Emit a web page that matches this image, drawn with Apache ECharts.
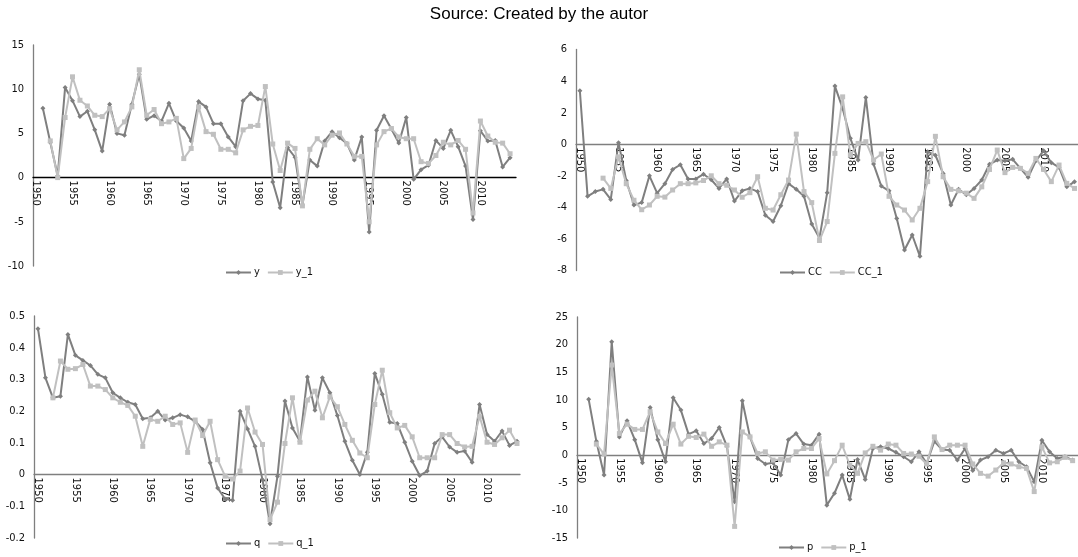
<!DOCTYPE html>
<html>
<head>
<meta charset="utf-8">
<script src="https://cdn.jsdelivr.net/npm/echarts@6/dist/echarts.min.js"></script>
<style>
html,body{margin:0;padding:0;background:#fff;}
#c{width:1078px;height:557px;}
</style>
</head>
<body>
<div id="c"></div>
<script>
// ---- DATA (years 1950..2014) ----
const years = [];
for (let yr = 1950; yr <= 2014; yr++) years.push(yr);
const labelYears = [1950,1955,1960,1965,1970,1975,1980,1985,1990,1995,2000,2005,2010];

const y = [null,7.85,4.0,0.2,10.2,8.7,6.9,7.5,5.4,3.0,8.3,5.0,4.8,8.3,11.7,6.6,7.0,6.4,8.4,6.4,
  5.6,4.15,8.6,8.0,6.1,6.1,4.6,3.5,8.7,9.5,8.9,8.75,-0.5,-3.4,3.4,2.3,-3.1,2.0,1.3,4.15,
  5.2,4.5,3.85,2.0,4.6,-6.15,5.35,7.0,5.5,3.9,6.8,-0.2,0.9,1.4,4.2,3.3,5.35,3.5,1.3,-4.75,
  5.3,4.15,4.2,1.2,2.25];
const y_1 = [null,null,4.15,0,6.8,11.4,8.75,8.1,7.05,6.9,7.8,5.4,6.3,8.0,12.2,7.05,7.7,6.1,6.3,6.7,
  2.15,3.3,8.0,5.2,4.9,3.2,3.2,2.8,5.4,5.8,5.9,10.3,3.8,0.8,3.9,3.3,-3.2,3.2,4.4,3.7,
  4.8,5.05,3.8,2.4,2.4,-5.0,3.7,5.2,5.55,4.6,4.4,4.4,1.8,1.6,2.5,4.0,3.7,4.2,3.2,-4.0,
  6.4,4.7,4.0,3.9,2.7];

const CC = [3.39,-3.3,-3.0,-2.86,-3.5,0.1,-2.3,-3.85,-3.7,-2.0,-3.1,-2.5,-1.6,-1.3,-2.2,-2.2,-1.9,-2.25,-2.8,-2.2,
  -3.6,-2.95,-2.8,-3.0,-4.5,-4.9,-3.9,-2.5,-2.85,-3.3,-5.05,-5.95,-3.07,3.68,2.27,0.37,-1.0,2.96,-1.26,-2.65,
  -2.95,-4.7,-6.7,-5.75,-7.1,-0.47,-0.7,-1.85,-3.85,-2.86,-3.2,-2.8,-2.27,-1.27,-1.0,-1.05,-0.96,-1.53,-2.1,-1.05,
  -0.41,-1.17,-1.47,-2.7,-2.37];
const CC_1 = [null,null,null,-2.15,-2.8,-0.8,-2.5,-3.55,-4.15,-3.85,-3.3,-3.35,-2.9,-2.5,-2.5,-2.45,-2.3,-2.0,-2.5,-2.6,
  -2.9,-3.36,-3.07,-2.06,-4.06,-4.17,-3.2,-2.27,0.64,-3.0,-3.7,-6.1,-4.9,-0.58,3.0,-0.69,0.05,0.16,-1.0,-0.62,
  -3.3,-3.85,-4.17,-4.8,-4.06,-2.37,0.5,-2.06,-2.86,-2.95,-3.1,-3.43,-2.7,-1.6,-0.37,-1.8,-1.47,-1.53,-1.85,-0.9,
  -1.6,-2.37,-1.32,-2.48,-2.8];

const q = [0.46,0.305,0.242,0.247,0.442,0.376,0.36,0.344,0.316,0.305,0.258,0.242,0.228,0.221,0.176,0.179,0.2,0.172,0.179,0.189,
  0.182,0.168,0.142,0.037,-0.042,-0.077,-0.081,0.2,0.144,0.089,-0.016,-0.155,-0.005,0.232,0.147,0.105,0.308,0.203,0.305,0.258,
  0.186,0.105,0.045,0.0,0.07,0.319,0.253,0.165,0.161,0.102,0.042,-0.003,0.011,0.098,0.119,0.087,0.07,0.074,0.039,0.221,
  0.126,0.105,0.137,0.092,0.105];
const q_1 = [null,null,0.242,0.358,0.332,0.334,0.347,0.279,0.279,0.268,0.242,0.228,0.218,0.184,0.089,0.174,0.168,0.184,0.158,0.163,
  0.07,0.172,0.123,0.168,0.047,-0.005,-0.014,0.011,0.21,0.134,0.095,-0.142,-0.087,0.098,0.242,0.102,0.235,0.263,0.179,0.245,
  0.214,0.158,0.108,0.068,0.053,0.221,0.329,0.195,0.147,0.155,0.119,0.053,0.053,0.053,0.126,0.126,0.098,0.087,0.089,0.184,
  0.102,0.095,0.116,0.14,0.098];

const p = [null,10.1,2.5,-3.6,20.5,3.3,6.2,2.8,-1.4,8.6,2.8,-1.2,10.4,8.15,3.8,4.4,2.1,3.0,5.0,1.6,
  -8.45,9.85,3.3,-0.6,-1.6,-1.4,-3.6,2.8,3.9,2.0,1.8,3.8,-9.05,-6.9,-3.6,-8.0,-0.8,-4.4,1.2,1.5,
  1.2,0.5,-0.3,-1.2,0.6,-1.5,2.5,1.0,0.9,-0.9,1.2,-2.8,-0.9,-0.3,0.9,0.3,0.9,-1.2,-2.1,-4.8,
  2.7,0.6,-0.6,-0.3,-0.9];
const p_1 = [null,null,2.0,0.2,16.3,3.9,5.6,4.65,4.65,7.85,4.2,2.1,5.6,2.0,3.4,3.2,3.8,1.6,2.4,1.8,
  -12.9,4.2,3.3,0.3,0.6,-0.9,-0.8,-0.9,0.6,1.2,1.2,3.0,-3.4,-1.0,1.8,-1.8,-3.3,0.4,1.6,0.9,
  2.0,1.8,0.3,0.2,-0.2,-1.6,3.3,1.0,1.8,1.8,1.8,-1.6,-3.3,-3.8,-2.7,-1.4,-1.6,-2.1,-2.4,-6.6,
  1.5,-1.4,-1.2,-0.4,-1.0];

// ---- CHART ----
const F = "'Liberation Sans Narrow','DejaVu Sans Condensed','Roboto Condensed',sans-serif";
const DARK = '#7f7f7f', LIGHT = '#c0c0c0';
const pairs = arr => years.map((yr, i) => [yr, arr[i]]);

const panels = [
  {names:['y','y_1'], data:[y,y_1], grid:{left:33,top:45,width:483,height:221}, yMin:-10,yMax:15,yInt:5, xMin:1949.67,xMax:2014.8, zero:'#000000', legend:{left:220,top:262}},
  {names:['CC','CC_1'], data:[CC,CC_1], grid:{left:576,top:49.5,width:502,height:221}, yMin:-8,yMax:6,yInt:2, xMin:1949.5,xMax:2014.45, zero:'#7f7f7f', legend:{left:774,top:262}},
  {names:['q','q_1'], data:[q,q_1], grid:{left:34,top:316,width:486,height:222}, yMin:-0.2,yMax:0.5,yInt:0.1, xMin:1949.47,xMax:2014.4, zero:'#7f7f7f', legend:{left:220,top:533}},
  {names:['p','p_1'], data:[p,p_1], grid:{left:577,top:317,width:501,height:221}, yMin:-15,yMax:25,yInt:5, xMin:1949.48,xMax:2014.7, zero:'#7f7f7f', legend:{left:773,top:537}}
];

const option = {
  animation:false,
  backgroundColor:'#fff',
  title:{text:'Source: Created by the autor', left:'center', top:1,
    textStyle:{fontFamily:"'Liberation Sans',Arial,sans-serif", fontSize:17, fontWeight:'normal', color:'#000'}},
  grid:[], xAxis:[], yAxis:[], series:[], legend:[]
};

panels.forEach((pn, i) => {
  // distance from grid bottom to the zero line, so the year axis (line + labels) sits on zero
  const zeroOffset = pn.grid.height * (0 - pn.yMin) / (pn.yMax - pn.yMin);
  option.grid.push(Object.assign({containLabel:false}, pn.grid));
  option.xAxis.push({
    type:'value', gridIndex:i, min:pn.xMin, max:pn.xMax, position:'bottom', offset:-zeroOffset,
    axisLine:{onZero:false, lineStyle:{color:pn.zero, width:1.3}},
    axisTick:{show:false}, splitLine:{show:false},
    axisLabel:{customValues:labelYears, rotate:-90, margin:3, fontSize:11, color:'#111', fontFamily:F,
      formatter:v => String(v)}
  });
  option.yAxis.push({
    type:'value', gridIndex:i, min:pn.yMin, max:pn.yMax, interval:pn.yInt,
    axisLine:{show:true, onZero:false, lineStyle:{color:'#7f7f7f', width:1.3}},
    axisTick:{show:false}, splitLine:{show:false},
    axisLabel:{fontSize:11, color:'#111', margin:9, fontFamily:F,
      formatter:v => String(Math.round(v*1000)/1000)}
  });
  option.series.push({
    name:pn.names[0], type:'line', xAxisIndex:i, yAxisIndex:i, data:pairs(pn.data[0]),
    symbol:'diamond', symbolSize:5, showSymbol:true,
    lineStyle:{color:DARK, width:2}, itemStyle:{color:DARK}, z:2
  });
  option.series.push({
    name:pn.names[1], type:'line', xAxisIndex:i, yAxisIndex:i, data:pairs(pn.data[1]),
    symbol:'rect', symbolSize:5, showSymbol:true,
    lineStyle:{color:LIGHT, width:2}, itemStyle:{color:LIGHT}, z:3
  });
  option.legend.push({
    data:pn.names, left:pn.legend.left, top:pn.legend.top, orient:'horizontal',
    itemWidth:25, itemHeight:6, itemGap:7,
    textStyle:{fontFamily:F, fontSize:11, color:'#111', padding:[0,0,0,-2]}
  });
});

const chart = echarts.init(document.getElementById('c'), null, {renderer:'canvas'});
chart.setOption(option);
</script>
</body>
</html>
